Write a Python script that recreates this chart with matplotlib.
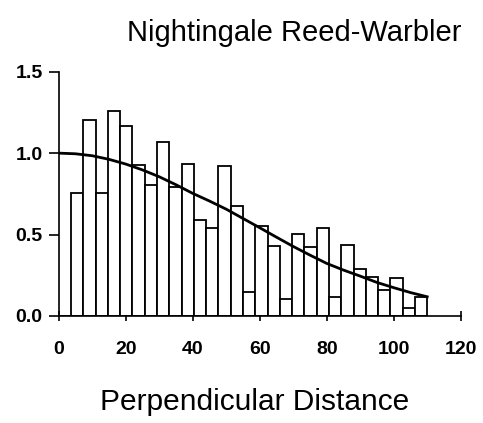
import matplotlib
matplotlib.use("Agg")
import matplotlib.pyplot as plt
import numpy as np

plt.rcParams['font.family'] = ['Liberation Sans', 'DejaVu Sans']

title = "Nightingale Reed-Warbler"
xlabel = "Perpendicular Distance"

# histogram: 30 bins of equal width over 0-110 m
bin_lo = 0.0
bin_hi = 110.0
n_bins = 30
bar_heights = [0.0, 0.757, 1.205, 0.757, 1.258, 1.164, 0.929, 0.804, 1.066, 0.794,
               0.935, 0.589, 0.540, 0.921, 0.675, 0.145, 0.552, 0.430, 0.102, 0.501,
               0.424, 0.542, 0.117, 0.434, 0.290, 0.241, 0.160, 0.235, 0.051, 0.115]

# fitted detection function
curve_x = [0, 5, 10, 15, 20, 25, 30, 35, 40, 45, 50, 55, 60, 65, 70, 75, 80, 85, 90, 95, 100, 105, 110]
curve_y = [1.0, 0.996, 0.984, 0.962, 0.933, 0.897, 0.855, 0.806, 0.753, 0.706, 0.656, 0.599,
           0.542, 0.484, 0.427, 0.374, 0.323, 0.282, 0.245, 0.206, 0.174, 0.144, 0.118]

xticks = [0, 20, 40, 60, 80, 100, 120]
yticks = [0.0, 0.5, 1.0, 1.5]
yticklabels = ["0.0", "0.5", "1.0", "1.5"]

W, H = 483, 423
fig = plt.figure(figsize=(W / 100, H / 100), dpi=100)
ax = fig.add_axes([58.7 / W, 1 - 316 / H, (460.7 - 58.7) / W, (316 - 71.7) / H])

edges = np.linspace(bin_lo, bin_hi, n_bins + 1)
width = edges[1] - edges[0]
ax.bar(edges[:-1], bar_heights, width=width, align='edge',
       facecolor='white', edgecolor='black', linewidth=1.3, zorder=2)
ax.plot(curve_x, curve_y, color='black', linewidth=2.0, zorder=3)

ax.set_xlim(0, 120)
ax.set_ylim(0, 1.5)
ax.set_xticks(xticks)
ax.set_xticklabels([str(t) for t in xticks])
ax.set_yticks(yticks)
ax.set_yticklabels(yticklabels)
for s in ['top', 'right']:
    ax.spines[s].set_visible(False)
for s in ['left', 'bottom']:
    ax.spines[s].set_linewidth(1.2)
    ax.spines[s].set_zorder(4)
ax.tick_params(axis='x', direction='inout', length=6.5, width=1.2, pad=15,
               labelsize=14)
ax.tick_params(axis='y', direction='out', length=7, width=1.2, pad=4.5,
               labelsize=14)
for lab in ax.get_xticklabels() + ax.get_yticklabels():
    lab.set_fontweight('bold')

fig.text(294 / W, 1 - 33 / H, title, ha='center', va='center', fontsize=21)
fig.text(255 / W, 1 - 402 / H, xlabel, ha='center', va='center', fontsize=21.5)

fig.savefig("out.png", dpi=100)
